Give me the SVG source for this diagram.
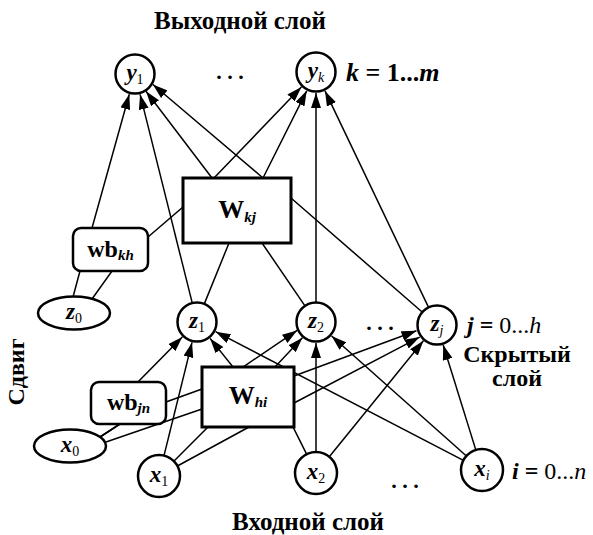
<svg xmlns="http://www.w3.org/2000/svg" width="593" height="535" viewBox="0 0 593 535">
  <defs>
    <marker id="ah" viewBox="0 0 15 10" refX="15" refY="5" markerWidth="15" markerHeight="10" markerUnits="userSpaceOnUse" orient="auto">
      <path d="M0,0 L15,5 L0,10 z" fill="#000"/>
    </marker>
    <style>
      .ln { fill: none; stroke: #000; stroke-width: 1.5; marker-end: url(#ah); }
      .nd { fill: #fff; stroke: #000; stroke-width: 2.5; }
      .bx { fill: #fff; stroke: #000; stroke-width: 3; }
      .wb { fill: #fff; stroke: #000; stroke-width: 2.5; }
      .t { font-family: "Liberation Serif", "Times New Roman", serif; font-weight: bold; fill: #000; }
      .it { font-style: italic; }
      .v { font-style: italic; font-size: 23px; }
      .sub { font-size: 14px; font-weight: normal; }
      .lbl { font-size: 25px; }
      .rng { font-size: 24px; }
    </style>
  </defs>
  <rect width="593" height="535" fill="#fff"/>

  <!-- connectors: hidden layer to output layer, then input layer to hidden layer -->
  <g id="connectors">
    <polyline class="ln" points="73,297 80,271 92,228 129.3,94.3"/>
    <polyline class="ln" points="192.4,303.6 140.1,94.4"/>
    <polyline class="ln" points="305.3,306.3 262,243 212,178 146,91.3"/>
    <polyline class="ln" points="422.7,312.5 291,198 263,178 152.9,84.5"/>
    <polyline class="ln" points="92,299 112,271 148,237 183,207 214,178 301.4,87.1"/>
    <polyline class="ln" points="204.1,304.4 229,243 263,178 306.7,90.8"/>
    <polyline class="ln" points="316,303 316,93"/>
    <polyline class="ln" points="428.8,307.9 325,90.9"/>

    <polyline class="ln" points="100,437 120,424 138,382 182.3,337"/>
    <polyline class="ln" points="164,455.6 192,342.4"/>
    <polyline class="ln" points="306.6,454.2 293,427 233,367 210.1,338.4"/>
    <polyline class="ln" points="463.4,460.3 215.6,331.7"/>
    <polyline class="ln" points="100,437 120,424 166,402 202,389 243,367 297.1,330.4"/>
    <polyline class="ln" points="173.8,461.2 208,427 275,367 302.4,337.8"/>
    <polyline class="ln" points="316,452 316,343"/>
    <polyline class="ln" points="466.4,456 331.6,336"/>
    <polyline class="ln" points="106,442 202,409 294,376 416.5,330.8"/>
    <polyline class="ln" points="177.4,466 249,427 294,403 419.7,337.1"/>
    <polyline class="ln" points="329.3,456.7 423.4,340.8"/>
    <polyline class="ln" points="475.8,449.9 443.2,345"/>
  </g>

  <!-- weight boxes -->
  <g id="Wkj">
    <rect class="bx" x="183" y="178" width="108" height="65"/>
    <text class="t" x="237" y="218" text-anchor="middle"><tspan font-size="26">W</tspan><tspan class="it" font-size="15" dy="4">kj</tspan></text>
  </g>
  <g id="wbkh">
    <rect class="wb" x="73" y="228" width="75" height="43" rx="8"/>
    <text class="t" x="110.5" y="257" text-anchor="middle"><tspan font-size="24">wb</tspan><tspan class="it" font-size="15" dy="3">kh</tspan></text>
  </g>
  <g id="Whi">
    <rect class="bx" x="202" y="367" width="92" height="60"/>
    <text class="t" x="248" y="404" text-anchor="middle"><tspan font-size="26">W</tspan><tspan class="it" font-size="15" dy="3">hi</tspan></text>
  </g>
  <g id="wbjn">
    <rect class="wb" x="91" y="382" width="75" height="42" rx="8"/>
    <text class="t" x="128.5" y="410" text-anchor="middle"><tspan font-size="24">wb</tspan><tspan class="it" font-size="15" dy="3">jn</tspan></text>
  </g>

  <!-- output layer -->
  <g id="y1">
    <circle class="nd" cx="135" cy="74" r="19.5"/>
    <text class="t" x="135" y="80" text-anchor="middle"><tspan class="v">y</tspan><tspan class="sub" dy="4">1</tspan></text>
  </g>
  <g id="yk">
    <circle class="nd" cx="316" cy="72" r="19.5"/>
    <text class="t" x="316" y="78" text-anchor="middle"><tspan class="v">y</tspan><tspan class="sub it" dy="4">k</tspan></text>
  </g>

  <!-- hidden layer -->
  <g id="z0">
    <ellipse class="nd" cx="74" cy="313" rx="36" ry="16.5"/>
    <text class="t" x="74" y="319" text-anchor="middle"><tspan class="v">z</tspan><tspan class="sub" dy="4">0</tspan></text>
  </g>
  <g id="z1">
    <circle class="nd" cx="197" cy="322" r="19.5"/>
    <text class="t" x="197" y="328" text-anchor="middle"><tspan class="v">z</tspan><tspan class="sub" dy="4">1</tspan></text>
  </g>
  <g id="z2">
    <circle class="nd" cx="316" cy="322" r="19.5"/>
    <text class="t" x="316" y="328" text-anchor="middle"><tspan class="v">z</tspan><tspan class="sub" dy="4">2</tspan></text>
  </g>
  <g id="zj">
    <circle class="nd" cx="437" cy="325" r="19.5"/>
    <text class="t" x="437" y="331" text-anchor="middle"><tspan class="v">z</tspan><tspan class="sub it" dy="4">j</tspan></text>
  </g>

  <!-- input layer -->
  <g id="x0">
    <ellipse class="nd" cx="70" cy="446" rx="36" ry="16.5"/>
    <text class="t" x="70" y="452" text-anchor="middle"><tspan class="v">x</tspan><tspan class="sub" dy="4">0</tspan></text>
  </g>
  <g id="x1">
    <circle class="nd" cx="159" cy="476" r="21"/>
    <text class="t" x="159" y="482" text-anchor="middle"><tspan class="v">x</tspan><tspan class="sub" dy="4">1</tspan></text>
  </g>
  <g id="x2">
    <circle class="nd" cx="316" cy="473" r="21"/>
    <text class="t" x="316" y="479" text-anchor="middle"><tspan class="v">x</tspan><tspan class="sub" dy="4">2</tspan></text>
  </g>
  <g id="xi">
    <circle class="nd" cx="482" cy="470" r="21"/>
    <text class="t" x="482" y="476" text-anchor="middle"><tspan class="v">x</tspan><tspan class="sub it" dy="4">i</tspan></text>
  </g>

  <!-- layer captions and index ranges -->
  <g id="labels">
    <text class="t lbl" x="240" y="29" text-anchor="middle">Выходной слой</text>
    <text class="t lbl" x="308" y="530" text-anchor="middle">Входной слой</text>
    <text class="t" font-size="24" x="517" y="362" text-anchor="middle">Скрытый</text>
    <text class="t" font-size="24" x="517" y="386" text-anchor="middle">слой</text>
    <text class="t" font-size="24" transform="translate(24,372) rotate(-90)" text-anchor="middle">Сдвиг</text>
    <text class="t" font-size="22" x="230" y="79" text-anchor="middle">. . .</text>
    <text class="t" font-size="22" x="380" y="330" text-anchor="middle">. . .</text>
    <text class="t" font-size="22" x="405" y="488" text-anchor="middle">. . .</text>
    <text class="t" font-size="26" x="346" y="81"><tspan class="it">k</tspan> = 1...<tspan class="it">m</tspan></text>
    <text class="t rng" x="467" y="333"><tspan class="it">j</tspan> = <tspan font-weight="normal">0...</tspan><tspan class="it" font-weight="normal">h</tspan></text>
    <text class="t rng" x="512" y="479"><tspan class="it">i</tspan> = <tspan font-weight="normal">0...</tspan><tspan class="it" font-weight="normal">n</tspan></text>
  </g>
</svg>
